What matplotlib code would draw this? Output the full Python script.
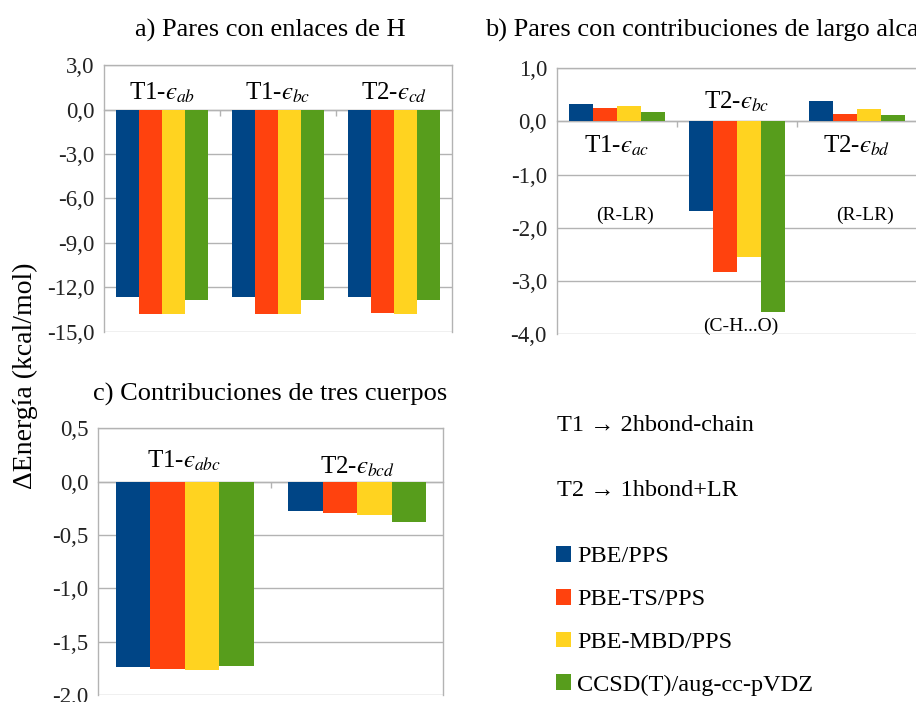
import matplotlib
matplotlib.use('Agg')
import matplotlib.pyplot as plt
import numpy as np
from matplotlib.ticker import FuncFormatter

plt.rcParams['font.family'] = ['Liberation Serif', 'DejaVu Serif']
plt.rcParams['mathtext.fontset'] = 'stix'

# ---------------- data ----------------
methods = ['PBE/PPS', 'PBE-TS/PPS', 'PBE-MBD/PPS', 'CCSD(T)/aug-cc-pVDZ']
colors = ['#004586', '#ff420e', '#ffd320', '#579d1c']

EPS = '\u03f5'

# a) Pares con enlaces de H
cats_a = ['T1-$' + EPS + '_{ab}$', 'T1-$' + EPS + '_{bc}$', 'T2-$' + EPS + '_{cd}$']
a_pbe = [-12.65, -12.65, -12.65]
a_ts = [-13.77, -13.77, -13.75]
a_mbd = [-13.77, -13.77, -13.77]
a_ccsd = [-12.83, -12.83, -12.83]

# b) Pares con contribuciones de largo alcance
cats_b = ['T1-$' + EPS + '_{ac}$', 'T2-$' + EPS + '_{bc}$', 'T2-$' + EPS + '_{bd}$']
b_pbe = [0.33, -1.69, 0.39]
b_ts = [0.25, -2.84, 0.14]
b_mbd = [0.29, -2.56, 0.24]
b_ccsd = [0.175, -3.59, 0.125]
notes_b = ['(R-LR)', '(C-H...O)', '(R-LR)']

# c) Contribuciones de tres cuerpos
cats_c = ['T1-$' + EPS + '_{abc}$', 'T2-$' + EPS + '_{bcd}$']
c_pbe = [-1.74, -0.272]
c_ts = [-1.755, -0.294]
c_mbd = [-1.765, -0.313]
c_ccsd = [-1.725, -0.38]

W, H = 916, 702
fig = plt.figure(figsize=(W / 100, H / 100), dpi=100)


def px_axes(l, t, r, b):
    return fig.add_axes([l / W, 1 - b / H, (r - l) / W, (b - t) / H])


GRID = '#b3b3b3'
fmt = FuncFormatter(lambda v, p: f'{v:.1f}'.replace('.', ','))


def grouped(ax, series, ncat, ylim, ystep):
    x = np.arange(ncat)
    w = 0.2
    handles = []
    for i, (vals, c, m) in enumerate(zip(series, colors, methods)):
        h = ax.bar(x + (i - 1.5) * w, vals, width=w, color=c, label=m,
                   zorder=3, linewidth=0)
        handles.append(h)
    ax.set_xlim(-0.5, ncat - 0.5)
    ax.set_ylim(*ylim)
    ax.set_yticks(np.arange(ylim[0], ylim[1] + ystep / 2, ystep))
    ax.yaxis.set_major_formatter(fmt)
    ax.grid(axis='y', color=GRID, lw=1.0, zorder=0)
    for s in ax.spines.values():
        s.set_color(GRID)
        s.set_linewidth(1.0)
    ax.spines['bottom'].set_position(('data', 0))
    ax.set_xticks(np.arange(ncat - 1) + 0.5)
    ax.set_xticklabels([])
    ax.tick_params(axis='x', length=4, direction='out', color=GRID, width=1)
    ax.tick_params(axis='y', length=0, pad=7, labelsize=16.5, labelcolor='#222222')
    return handles, x


LBL = 18

# ---- panel a ----
ax_a = px_axes(104, 65, 452, 332)
ha_, xa = grouped(ax_a, [a_pbe, a_ts, a_mbd, a_ccsd], 3, (-15, 3), 3)
for xi, lab in zip(xa, cats_a):
    ax_a.annotate(lab, xy=(xi, 0), xytext=(0, 3), textcoords='offset points',
                  ha='center', va='bottom', fontsize=LBL)

# ---- panel b ----
ax_b = px_axes(556.7, 68.3, 916.7, 334)
hb_, xb = grouped(ax_b, [b_pbe, b_ts, b_mbd, b_ccsd], 3, (-4, 1), 1)
ax_b.annotate(cats_b[0], xy=(xb[0], 0), xytext=(0, -9), textcoords='offset points',
              ha='center', va='top', fontsize=LBL)
ax_b.annotate(cats_b[1], xy=(xb[1], 0), xytext=(0, 5), textcoords='offset points',
              ha='center', va='bottom', fontsize=LBL)
ax_b.annotate(cats_b[2], xy=(xb[2], 0), xytext=(0, -9), textcoords='offset points',
              ha='center', va='top', fontsize=LBL)
ax_b.text(xb[0] + 0.07, -1.76, notes_b[0], ha='center', va='center', fontsize=14)
ax_b.text(xb[1] + 0.035, -3.86, notes_b[1], ha='center', va='center', fontsize=14)
ax_b.text(xb[2] + 0.07, -1.76, notes_b[2], ha='center', va='center', fontsize=14)

# ---- panel c ----
ax_c = px_axes(98.3, 428.3, 443.3, 695)
hc_, xc = grouped(ax_c, [c_pbe, c_ts, c_mbd, c_ccsd], 2, (-2.0, 0.5), 0.5)
ax_c.annotate(cats_c[0], xy=(xc[0], 0), xytext=(0, 6), textcoords='offset points',
              ha='center', va='bottom', fontsize=LBL)
ax_c.annotate(cats_c[1], xy=(xc[1], 0), xytext=(0, 2), textcoords='offset points',
              ha='center', va='bottom', fontsize=LBL)

# ---- titles ----
TT = 19
fig.text(270.5 / W, 1 - 30 / H, 'a) Pares con enlaces de H', ha='center', va='center', fontsize=TT)
fig.text(485 / W, 1 - 30 / H, 'b) Pares con contribuciones de largo alcance',
         ha='left', va='center', fontsize=TT)
fig.text(270.5 / W, 1 - 394 / H, 'c) Contribuciones de tres cuerpos', ha='center', va='center', fontsize=TT)

fig.text(25 / W, 1 - 376 / H, 'ΔEnergía (kcal/mol)', rotation=90, ha='center', va='center', fontsize=20)

# ---- key text ----
fig.text(557 / W, 1 - 426 / H, 'T1 → 2hbond-chain', ha='left', va='center', fontsize=17.5)
fig.text(557 / W, 1 - 490 / H, 'T2 → 1hbond+LR', ha='left', va='center', fontsize=17.5)

# ---- legend ----
fig.legend(handles=ha_, labels=methods, loc='upper left',
           bbox_to_anchor=(556 / W, 1 - 546 / H), frameon=False, fontsize=17.5,
           handlelength=0.62, handleheight=0.62, handletextpad=0.25,
           labelspacing=0.88, borderaxespad=0, borderpad=0)

fig.savefig('out.png', dpi=100)
